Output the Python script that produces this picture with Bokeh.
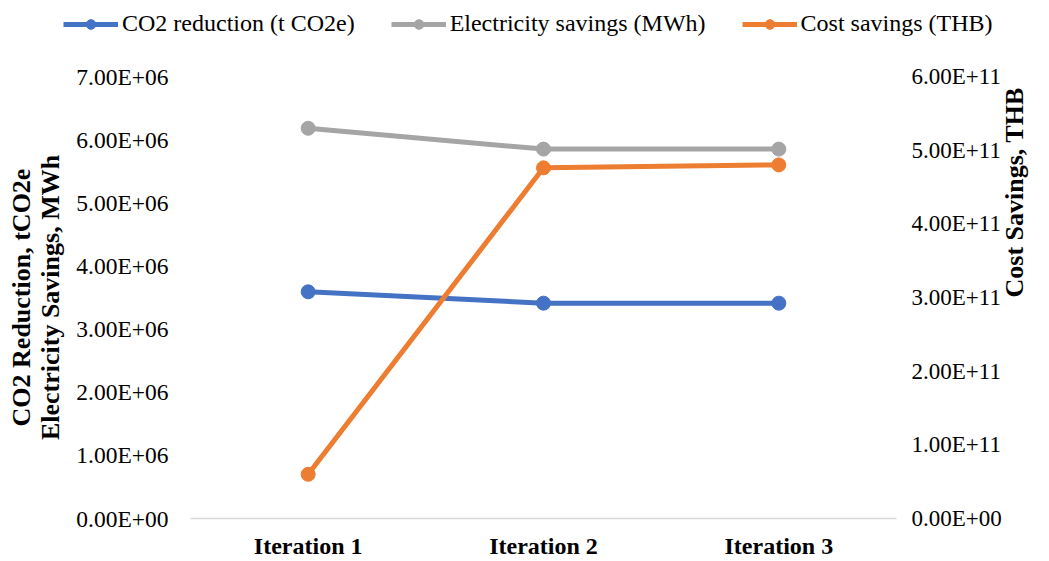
import math
from bokeh.plotting import figure
from bokeh.layouts import column
from bokeh.models import (Range1d, FactorRange, LinearAxis, FixedTicker, Legend, LegendItem,
                          ColumnDataSource)
from bokeh.embed import file_html
from bokeh.resources import INLINE

# ---- data ----
iterations = ["Iteration 1", "Iteration 2", "Iteration 3"]
co2_reduction = [3.59e6, 3.41e6, 3.41e6]          # t CO2e (left axis)
electricity_savings = [6.18e6, 5.85e6, 5.85e6]    # MWh (left axis)
cost_savings = [6.0e10, 4.76e11, 4.80e11]         # THB (right axis)

left_ticks = [0, 1e6, 2e6, 3e6, 4e6, 5e6, 6e6, 7e6]
left_tick_labels = ["0.00E+00", "1.00E+06", "2.00E+06", "3.00E+06",
                    "4.00E+06", "5.00E+06", "6.00E+06", "7.00E+06"]
right_ticks = [0, 1e11, 2e11, 3e11, 4e11, 5e11, 6e11]
right_tick_labels = ["0.00E+00", "1.00E+11", "2.00E+11", "3.00E+11",
                     "4.00E+11", "5.00E+11", "6.00E+11"]

series_names = ["CO2 reduction (t CO2e)", "Electricity savings (MWh)", "Cost savings (THB)"]
colors = ["#4472C4", "#A5A5A5", "#ED7D31"]

FONT = "Liberation Serif"
LW = 5
MS = 14

# ---- main chart ----
p = figure(width=1049, height=500, x_range=FactorRange(*iterations, range_padding=0),
           y_range=Range1d(0, 7e6), output_backend="svg", toolbar_location=None,
           min_border_left=190, min_border_right=153, min_border_top=15, min_border_bottom=41)
p.frame_align = False
p.extra_y_ranges = {"cost": Range1d(0, 6e11)}
p.outline_line_color = None
p.xgrid.visible = False
p.ygrid.visible = False
p.background_fill_color = "white"
p.border_fill_color = "white"

src = ColumnDataSource(dict(x=iterations, co2=co2_reduction, elec=electricity_savings, cost=cost_savings))

p.line("x", "co2", source=src, color=colors[0], line_width=LW)
p.scatter("x", "co2", source=src, color=colors[0], size=MS)
p.line("x", "elec", source=src, color=colors[1], line_width=LW)
p.scatter("x", "elec", source=src, color=colors[1], size=MS)
p.line("x", "cost", source=src, color=colors[2], line_width=LW, y_range_name="cost")
p.scatter("x", "cost", source=src, color=colors[2], size=MS, y_range_name="cost")

# left axis
ly = p.yaxis[0]
ly.ticker = FixedTicker(ticks=left_ticks)
ly.major_label_overrides = dict(zip(left_ticks, left_tick_labels))
ly.axis_line_color = None
ly.major_tick_line_color = None
ly.minor_tick_line_color = None
ly.major_tick_out = 0
ly.major_label_standoff = 22
ly.major_label_text_font = FONT
ly.major_label_text_font_size = "23.5px"
ly.major_label_text_color = "black"
ly.axis_label = "CO2 Reduction, tCO2e\nElectricity Savings, MWh"
ly.axis_label_text_font = FONT
ly.axis_label_text_font_style = "bold"
ly.axis_label_text_font_size = "26px"
ly.axis_label_text_color = "black"
ly.axis_label_text_line_height = 1.0
ly.axis_label_standoff = 8

# right axis
ry = LinearAxis(y_range_name="cost")
ry.ticker = FixedTicker(ticks=right_ticks)
ry.major_label_overrides = dict(zip(right_ticks, right_tick_labels))
ry.axis_line_color = None
ry.major_tick_line_color = None
ry.minor_tick_line_color = None
ry.major_tick_out = 0
ry.major_label_standoff = 15
ry.major_label_text_font = FONT
ry.major_label_text_font_size = "23px"
ry.major_label_text_color = "black"
ry.axis_label = "Cost Savings, THB"
ry.axis_label_orientation = math.pi / 2
ry.axis_label_text_font = FONT
ry.axis_label_text_font_style = "bold"
ry.axis_label_text_font_size = "26px"
ry.axis_label_text_color = "black"
ry.axis_label_standoff = 10
p.add_layout(ry, "right")

# x axis
xa = p.xaxis[0]
xa.axis_line_color = "#D9D9D9"
xa.axis_line_width = 1.5
xa.major_tick_line_color = None
xa.minor_tick_line_color = None
xa.major_tick_out = 0
xa.major_label_standoff = 14
xa.major_label_text_font = FONT
xa.major_label_text_font_style = "bold"
xa.major_label_text_font_size = "24px"
xa.major_label_text_color = "black"

# ---- legend strip on top ----
lg = figure(width=1049, height=61, x_range=Range1d(0, 1), y_range=Range1d(0, 1),
            x_axis_type=None, y_axis_type=None, output_backend="svg", toolbar_location=None,
            min_border=0)
lg.frame_align = False
lg.outline_line_color = None
lg.xgrid.visible = False
lg.ygrid.visible = False
items = []
for name, c in zip(series_names, colors):
    e = dict(x=[float("nan")], y=[float("nan")])
    rl = lg.line(x="x", y="y", source=ColumnDataSource(e), color=c, line_width=LW)
    rs = lg.scatter(x="x", y="y", source=ColumnDataSource(e), color=c, size=MS)
    items.append(LegendItem(label=name, renderers=[rl, rs]))

legend = Legend(items=items, orientation="horizontal", location=(63, 24),
                padding=0, margin=0, spacing=36, label_standoff=4,
                glyph_width=55, glyph_height=24, label_height=24,
                label_text_font=FONT, label_text_font_size="24px", label_text_color="black",
                border_line_color=None, background_fill_alpha=0)
lg.add_layout(legend, "center")

layout = column(lg, p, spacing=0)
open("out.html", "w").write(file_html(layout, INLINE))
